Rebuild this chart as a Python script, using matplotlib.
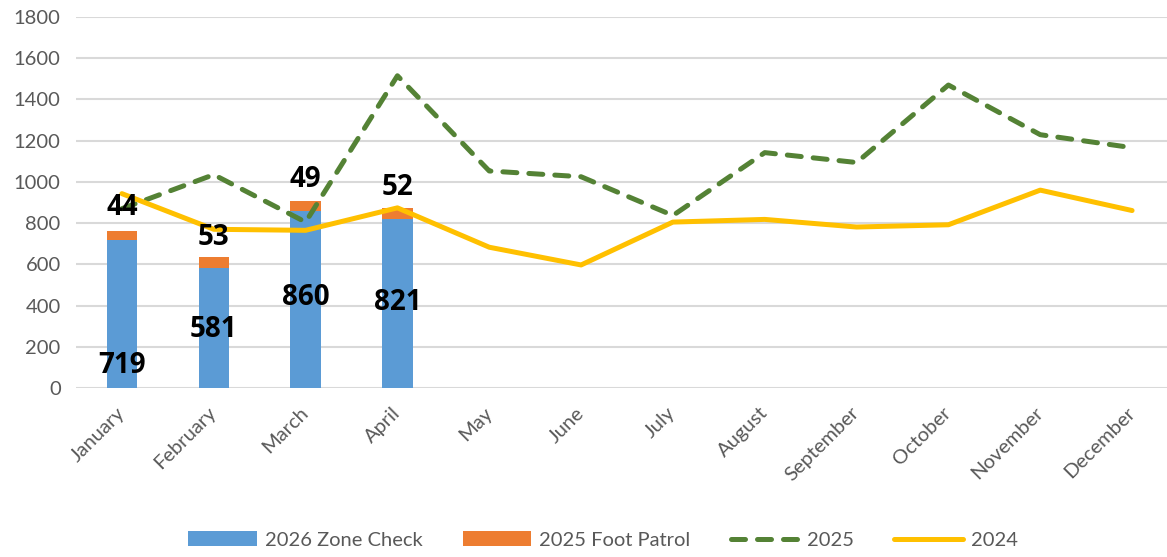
import matplotlib
matplotlib.use("Agg")
import matplotlib.pyplot as plt
import numpy as np

months = ["January", "February", "March", "April", "May", "June", "July",
          "August", "September", "October", "November", "December"]
zone_check_2026 = [719, 581, 860, 821]
foot_patrol_2025 = [44, 53, 49, 52]
line_2025 = [870, 1035, 805, 1515, 1053, 1025, 837, 1142, 1094, 1470, 1229, 1166]
line_2024 = [943, 770, 765, 874, 683, 597, 805, 818, 781, 792, 960, 861]

# label placement (layout only)
zone_label_y = [110, 282, 437, 413]
foot_label_y = [874, 728, 1010, 971]

plt.rcParams['font.family'] = ['Lato', 'DejaVu Sans']

fig = plt.figure(figsize=(11.67, 5.57), dpi=100)
ax = fig.add_axes([76/1167, (557-388)/557, (1178-76)/1167, (388-17)/557])

x = np.arange(len(months))
xb = x[:len(zone_check_2026)]
bw = 0.33
b1 = ax.bar(xb, zone_check_2026, width=bw, color="#5B9BD5", label="2026 Zone Check", zorder=2)
b2 = ax.bar(xb, foot_patrol_2025, width=bw, bottom=zone_check_2026, color="#ED7D31",
            label="2025 Foot Patrol", zorder=2)
l1, = ax.plot(x, line_2025, color="#548235", lw=3.6, linestyle=(0, (2.8, 2.4)),
              dash_capstyle="round", solid_capstyle="round", label="2025", zorder=3)
l2, = ax.plot(x, line_2024, color="#FFC000", lw=3.6, solid_capstyle="round",
              solid_joinstyle="round", label="2024", zorder=3)

lab_font = dict(family=['Open Sans', 'DejaVu Sans'], fontsize=20, fontweight="bold",
                color="black")
for xi, v, ly in zip(xb, zone_check_2026, zone_label_y):
    ax.text(xi, ly, str(v), ha="center", va="center", zorder=5, **lab_font)
for xi, v, ly in zip(xb, foot_patrol_2025, foot_label_y):
    ax.text(xi, ly, str(v), ha="center", va="center", zorder=5, **lab_font)

ax.set_xlim(-0.5, 11.5)
ax.set_ylim(0, 1800)
ax.set_yticks(np.arange(0, 1801, 200))
ax.yaxis.grid(True, color="#D9D9D9", lw=1.5, zorder=0)
ax.set_axisbelow(True)
for s in ax.spines.values():
    s.set_visible(False)
ax.tick_params(axis="both", length=0, colors="#595959", labelsize=14.5)
ax.tick_params(axis="y", pad=11)
ax.set_xticks(x)
ax.set_xticklabels(months, rotation=45, ha="right", va="center", rotation_mode="anchor")
ax.tick_params(axis="x", pad=16)

leg = fig.legend([b1, b2, l1, l2], ["2026 Zone Check", "2025 Foot Patrol", "2025", "2024"],
                 loc="center", bbox_to_anchor=(603/1167, 1-540/557),
                 ncol=4, frameon=False, fontsize=14.5, handlelength=3.4,
                 handleheight=0.7, columnspacing=2.0, handletextpad=0.4)
for t in leg.get_texts():
    t.set_color("#595959")

fig.savefig("out.png", dpi=100)
